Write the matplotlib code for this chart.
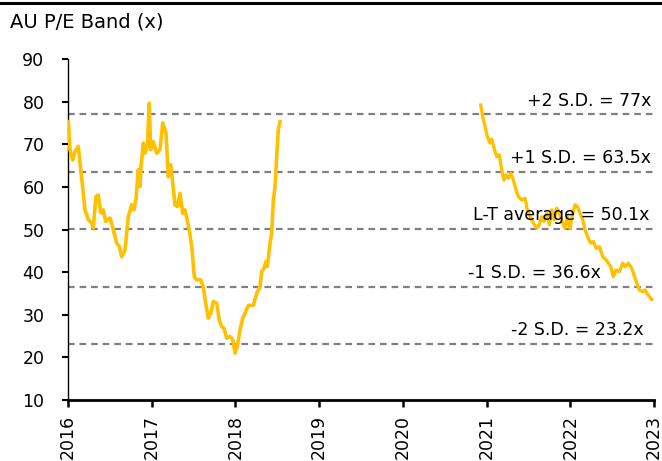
import matplotlib
matplotlib.use("Agg")
import matplotlib.pyplot as plt
from matplotlib.lines import Line2D

plt.rcParams['font.family'] = ['DejaVu Sans']

# Segment 1 (2016 - mid 2018): decimal year, P/E
dates1 = [2016.004, 2016.024, 2016.056, 2016.084, 2016.123, 2016.152, 2016.176, 2016.203,
          2016.243, 2016.283, 2016.302, 2016.334, 2016.362, 2016.391, 2016.422, 2016.450,
          2016.502, 2016.541, 2016.582, 2016.613, 2016.642, 2016.681, 2016.720, 2016.761,
          2016.788, 2016.812, 2016.840, 2016.860, 2016.872, 2016.900, 2016.920, 2016.947,
          2016.971, 2016.988, 2017.019, 2017.060, 2017.099, 2017.131, 2017.171, 2017.198,
          2017.227, 2017.251, 2017.278, 2017.306, 2017.338, 2017.370, 2017.398, 2017.449,
          2017.478, 2017.509, 2017.537, 2017.585, 2017.616, 2017.645, 2017.676, 2017.705,
          2017.736, 2017.776, 2017.807, 2017.836, 2017.864, 2017.896, 2017.935, 2017.968,
          2017.995, 2018.022, 2018.055, 2018.087, 2018.114, 2018.154, 2018.214, 2018.254,
          2018.294, 2018.314, 2018.341, 2018.365, 2018.381, 2018.413, 2018.433, 2018.453,
          2018.473, 2018.493, 2018.512, 2018.533]
pe1 = [75.3, 68.7, 66.3, 68.3, 69.5, 64.0, 59.7, 54.6,
       52.3, 51.5, 50.4, 57.7, 58.1, 53.9, 54.6, 51.9,
       52.7, 49.9, 46.8, 46.0, 43.6, 45.2, 53.0, 55.8,
       54.6, 57.0, 64.0, 60.1, 64.8, 70.3, 67.9, 69.5,
       79.6, 68.7, 70.6, 67.9, 68.7, 75.0, 72.6, 62.4,
       65.2, 60.9, 55.8, 55.4, 58.5, 53.8, 54.6, 49.9,
       46.0, 38.9, 38.2, 38.2, 36.6, 32.7, 29.2, 30.3,
       33.1, 32.7, 28.8, 27.2, 26.8, 24.5, 24.9, 24.1,
       21.0, 22.5, 26.4, 29.2, 30.3, 32.2, 32.2, 35.0,
       36.6, 40.1, 40.9, 42.5, 41.3, 46.8, 49.1, 56.9,
       60.1, 67.1, 73.4, 75.3]

# Segment 2 (late 2020 - 2023)
dates2 = [2020.930, 2020.954, 2020.982, 2021.009, 2021.041, 2021.061, 2021.089, 2021.121,
          2021.152, 2021.181, 2021.208, 2021.232, 2021.260, 2021.289, 2021.320, 2021.352,
          2021.379, 2021.420, 2021.459, 2021.487, 2021.519, 2021.559, 2021.599, 2021.630,
          2021.659, 2021.686, 2021.719, 2021.750, 2021.778, 2021.806, 2021.838, 2021.877,
          2021.910, 2021.937, 2021.965, 2021.997, 2022.029, 2022.057, 2022.084, 2022.116,
          2022.149, 2022.176, 2022.216, 2022.244, 2022.275, 2022.308, 2022.347, 2022.388,
          2022.427, 2022.455, 2022.483, 2022.514, 2022.546, 2022.586, 2022.627, 2022.658,
          2022.693, 2022.734, 2022.761, 2022.794, 2022.825, 2022.865, 2022.893, 2022.932,
          2022.973]
pe2 = [79.2, 76.5, 74.2, 71.8, 70.3, 71.2, 69.1, 67.1,
       67.5, 64.0, 61.6, 62.8, 62.0, 63.2, 61.6, 59.3,
       57.7, 56.9, 57.3, 54.6, 53.0, 51.5, 50.3, 51.1,
       53.0, 51.9, 53.8, 51.1, 54.6, 52.3, 55.0, 53.4,
       51.5, 50.3, 53.0, 50.3, 53.8, 55.8, 55.4, 53.8,
       52.3, 49.9, 47.9, 46.8, 47.2, 45.6, 46.0, 43.6,
       42.9, 42.1, 41.3, 38.9, 40.5, 40.1, 42.1, 41.3,
       42.1, 40.9, 39.3, 37.4, 35.8, 35.4, 35.8, 34.6,
       33.6]

band_values = [77.0, 63.5, 50.1, 36.6, 23.2]
band_labels = ['+2 S.D. = 77x', '+1 S.D. = 63.5x', 'L-T average = 50.1x',
               '-1 S.D. = 36.6x', '-2 S.D. = 23.2x']
band_label_x = [2022.97, 2022.97, 2022.95, 2022.37, 2022.88]

years = [2016, 2017, 2018, 2019, 2020, 2021, 2022, 2023]
yticks = [10, 20, 30, 40, 50, 60, 70, 80, 90]

fig = plt.figure(figsize=(6.62, 4.61), dpi=100)
ax = fig.add_axes([68/662, 61/461, (654-68)/662, (400-59)/461])

for v, lab, lx in zip(band_values, band_labels, band_label_x):
    ax.axhline(v, color='#808080', lw=1.6, ls=(0, (3, 2.2)), zorder=1)
    ax.text(lx, v + 3.2, lab, ha='right', va='center', fontsize=12.5, color='black', zorder=4)

ax.plot(dates1, pe1, color='#FFC000', lw=2.6, solid_joinstyle='round', zorder=3)
ax.plot(dates2, pe2, color='#FFC000', lw=2.4, solid_joinstyle='round', zorder=3)

ax.set_xlim(2016, 2023)
ax.set_ylim(10, 90)
ax.set_xticks(years)
ax.set_xticklabels([str(y) for y in years], rotation=90, fontsize=12.5)
ax.set_yticks(yticks)
ax.set_yticklabels([str(t) for t in yticks], fontsize=12.5)

for s in ['top', 'right']:
    ax.spines[s].set_visible(False)
ax.spines['left'].set_linewidth(1.0)
ax.spines['bottom'].set_linewidth(2.0)
ax.tick_params(axis='y', direction='out', length=4, width=1.5, pad=13)
ax.tick_params(axis='x', direction='out', length=5, width=1.8, pad=6)

fig.add_artist(Line2D([0, 1], [1 - 3/461, 1 - 3/461], color='black', lw=2.2,
                      transform=fig.transFigure))
fig.text(10/662, 1 - 22/461, 'AU P/E Band (x)', fontsize=14, ha='left', va='center')

fig.savefig('out.png', dpi=100)
